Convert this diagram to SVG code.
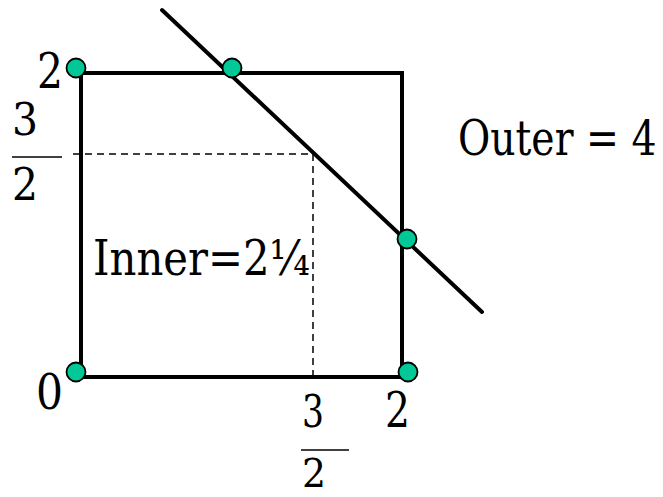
<svg xmlns="http://www.w3.org/2000/svg" width="663" height="497" viewBox="0 0 663 497">
<style>
text{font-family:'DejaVu Serif','Liberation Serif','Times New Roman',serif;fill:#000}
.big{font-size:48px}
.fr{font-size:45px}
.edge{stroke:#000;stroke-width:4;fill:none}
.dash{stroke:#000;stroke-width:1.5;stroke-dasharray:7 5;fill:none}
.dot{fill:#00C896;stroke:#000;stroke-width:1.8}
</style>
<rect width="663" height="497" fill="#fff"/>
<g id="connectors">
<rect class="edge" x="81" y="73" width="321" height="304"/>
<line class="dash" x1="73" y1="154" x2="313" y2="154"/>
<line class="dash" x1="313" y1="154" x2="313" y2="377"/>
<line class="edge" x1="162" y1="10" x2="482" y2="312" stroke-linecap="round" stroke-width="3.5"/>
</g>
<g id="p1"><circle class="dot" cx="76" cy="68" r="9.5"/></g>
<g id="p2"><circle class="dot" cx="232" cy="68" r="9.5"/></g>
<g id="p3"><circle class="dot" cx="407" cy="239" r="9.5"/></g>
<g id="p4"><circle class="dot" cx="76" cy="372" r="9.5"/></g>
<g id="p5"><circle class="dot" cx="408" cy="372" r="9.5"/></g>
<g id="labels">
<text class="big" x="37" y="88" textLength="26" lengthAdjust="spacingAndGlyphs">2</text>
<text class="fr" x="12" y="135" textLength="26" lengthAdjust="spacingAndGlyphs">3</text>
<line x1="12" y1="157" x2="62" y2="157" stroke="#000" stroke-width="1.5"/>
<text class="fr" x="12" y="200" textLength="26" lengthAdjust="spacingAndGlyphs">2</text>
<text class="big" x="36" y="409" textLength="27" lengthAdjust="spacingAndGlyphs">0</text>
<text class="big" x="385" y="427" textLength="25" lengthAdjust="spacingAndGlyphs">2</text>
<text class="fr" x="302" y="427" textLength="22" lengthAdjust="spacingAndGlyphs">3</text>
<line x1="301" y1="450" x2="349" y2="450" stroke="#000" stroke-width="1.5"/>
<text x="302" y="487" font-size="40" textLength="24" lengthAdjust="spacingAndGlyphs">2</text>
<text class="big" x="93" y="275" textLength="217" lengthAdjust="spacingAndGlyphs">Inner=2¼</text>
<text class="big" transform="scale(0.82,1)" x="558.5" y="155">Outer = 4</text>
</g>
</svg>
